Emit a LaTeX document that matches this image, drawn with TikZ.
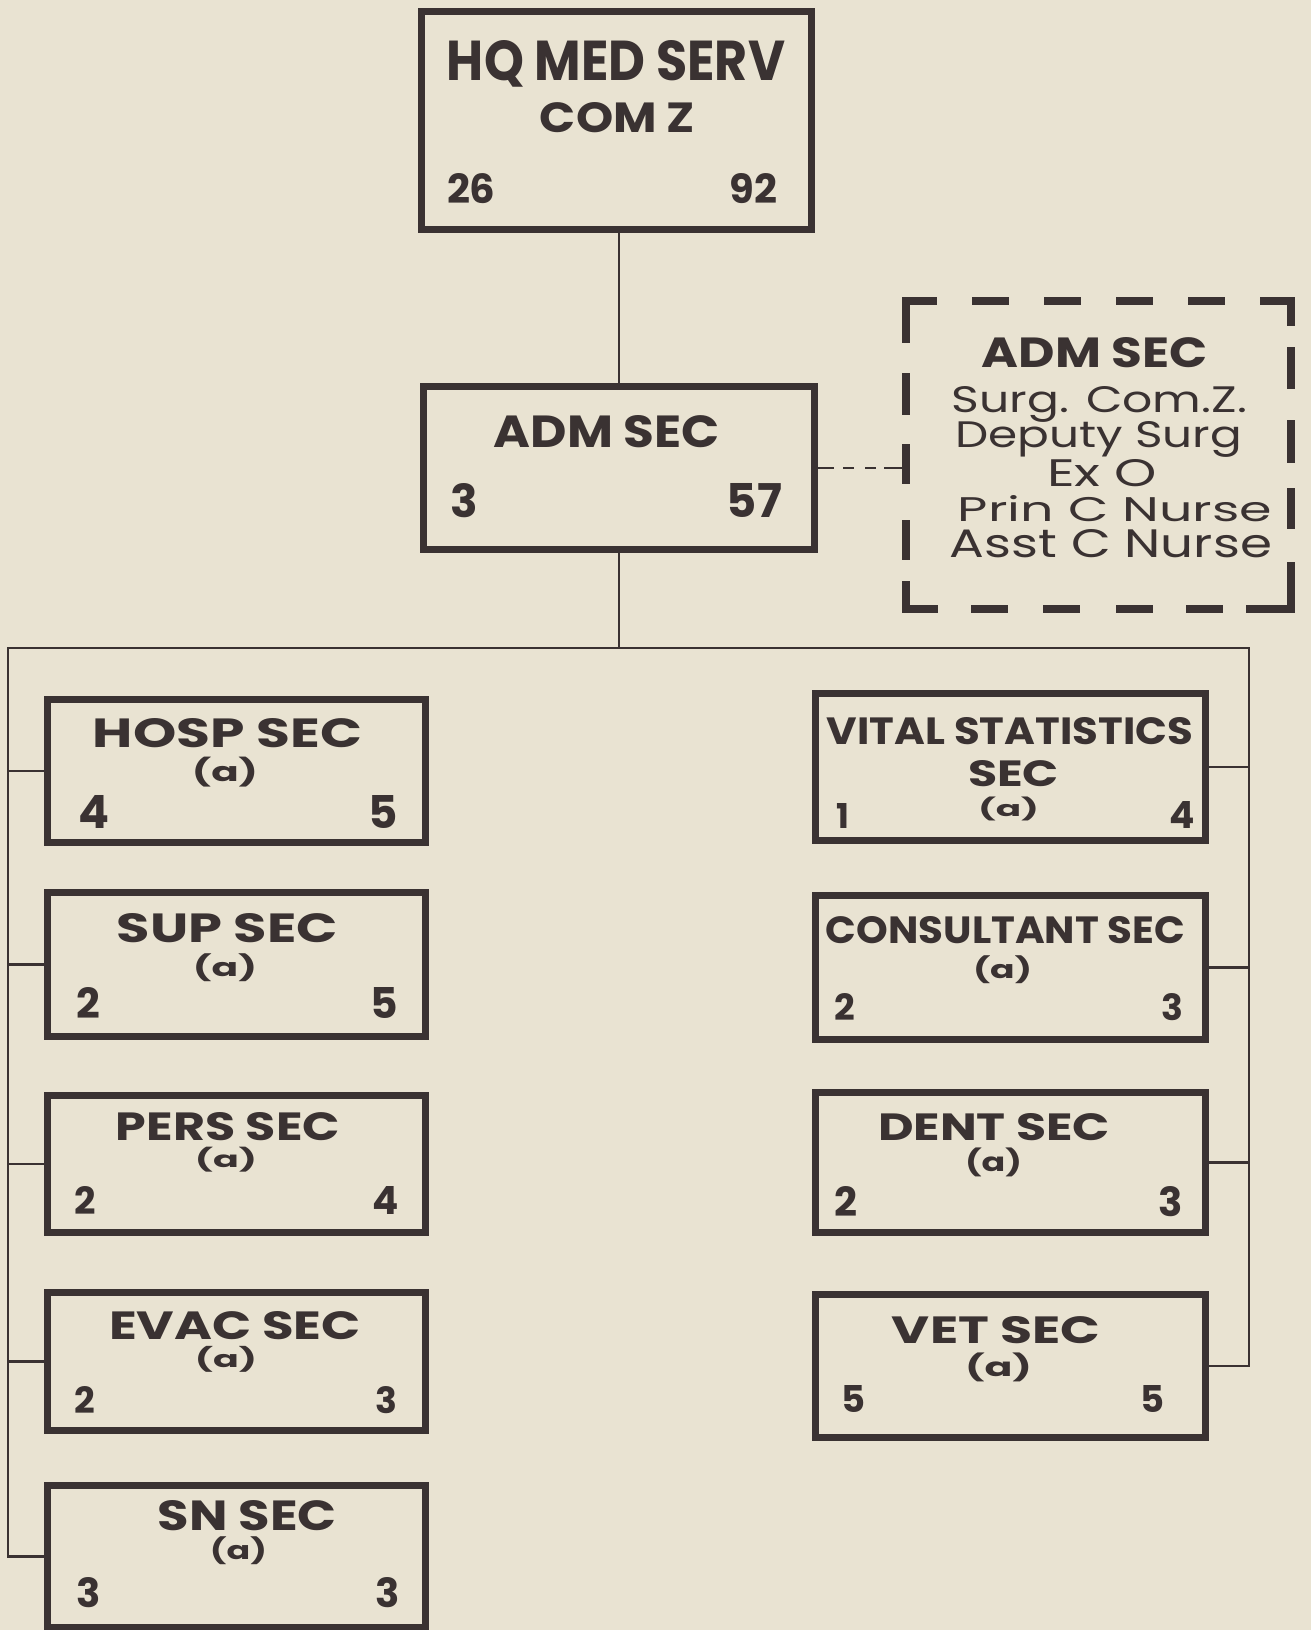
\documentclass[tikz,border=0pt]{standalone}
\usepackage{fontspec}
\setmainfont{Poppins}
\usepackage{graphicx}
\definecolor{paper}{RGB}{233,227,210}
\definecolor{ink}{RGB}{58,50,50}
\newcommand\tfit[3]{\resizebox{#1pt}{#2pt}{#3}}
\newcommand\dfit[2]{\resizebox{!}{#1pt}{#2}}
\newcommand\afit[2]{\resizebox*{#1pt}{#2pt}{(a)}}
\begin{document}
\begin{tikzpicture}[x=1pt,y=-1pt,
 box/.style={draw=ink, line width=7pt, inner sep=0pt, line join=miter},
 wire/.style={draw=ink, line width=2.5pt},
 lbl/.style={inner sep=0pt, outer sep=0pt, text=ink, font=\bfseries},
 lst/.style={inner sep=0pt, outer sep=0pt, text=ink, font=\mdseries},
 dwire/.style={draw=ink, line width=2.5pt, dash pattern=on 16pt off 9pt on 11pt off 11pt on 11pt off 8pt on 40pt off 1pt},
 dside/.style={draw=ink, line width=7.5pt, line cap=rect}
]
\useasboundingbox (0,0) rectangle (1311,1630);
\fill[paper] (0,0) rectangle (1311,1630);

% HQ
\node[box, minimum width=390pt, minimum height=218pt] (hq) at (616.5,120.5) {};
\node[lbl, anchor=base] (hqt) at (616,80) {\tfit{338}{40}{HQ MED SERV}};
\node[lbl, anchor=base] (hqc) at (617.5,132) {\tfit{155}{30}{COM Z}};
\node[lbl, anchor=base west] (hql) at (447,203) {\dfit{30}{26}};
\node[lbl, anchor=base east] (hqr) at (777,203) {\dfit{30}{92}};

% ADM SEC
\node[box, minimum width=391pt, minimum height=163pt] (adm) at (619,468) {};
\node[lbl, anchor=base] (admt) at (607,447) {\tfit{226}{32}{ADM SEC}};
\node[lbl, anchor=base west] (adml) at (450,517) {\dfit{34}{3}};
\node[lbl, anchor=base east] (admr) at (782,517) {\dfit{34}{57}};

% ADM SEC staff (dashed)
\node[inner sep=0pt, minimum width=385pt, minimum height=308pt] (admx) at (1098.5,455) {};
\node[lbl, anchor=base] (x1) at (1095,367) {\tfit{226}{30}{ADM SEC}};
\node[lst, anchor=base] (x2) at (1099.5,412) {\tfit{295}{26}{Surg. Com.Z.}};
\node[lst, anchor=base] (x3) at (1098.5,447) {\tfit{287}{26}{Deputy Surg}};
\node[lst, anchor=base] (x4) at (1102,486) {\tfit{110}{27}{Ex O}};
\node[lst, anchor=base] (x5) at (1115,521) {\tfit{314}{26}{Prin C Nurse}};
\node[lst, anchor=base] (x6) at (1111,557) {\tfit{322}{28}{Asst C Nurse}};
\draw[dside, dash pattern=on 30pt off 42pt, dash phase=2.5pt] (admx.north west) -- (admx.north east);
\draw[dside, dash pattern=on 38pt off 38pt on 34pt off 37pt on 32pt off 44pt on 32pt off 29pt on 40pt off 10pt] (admx.north west) -- (admx.south west);
\draw[dside, dash pattern=on 21pt off 29pt on 34pt off 39pt on 35pt off 33pt on 33pt off 41pt on 60pt off 10pt] (admx.north east) -- (admx.south east);
\draw[dside, dash pattern=on 28.5pt off 40pt on 30pt off 42pt on 30pt off 43pt on 30pt off 40pt on 30pt off 30pt on 60pt off 10pt] (admx.south west) -- (admx.south east);

% Left column
\node[box, minimum width=378pt, minimum height=143pt] (hosp) at (236.5,771) {};
\node[lbl, anchor=base] (hospt) at (227.5,747) {\tfit{269}{29}{HOSP SEC}};
\node[lbl] (hospa) at (225,772) {\afit{66}{30}};
\node[lbl, anchor=base west] (hospl) at (78,828) {\dfit{33}{4}};
\node[lbl, anchor=base east] (hospr) at (398,828) {\dfit{33}{5}};

\node[box, minimum width=378pt, minimum height=144pt] (sup) at (236.5,964.5) {};
\node[lbl, anchor=base] (supt) at (227.5,942) {\tfit{221}{29}{SUP SEC}};
\node[lbl] (supa) at (225,968) {\afit{64}{28}};
\node[lbl, anchor=base west] (supl) at (76,1018) {\dfit{31}{2}};
\node[lbl, anchor=base east] (supr) at (398,1018) {\dfit{31}{5}};

\node[box, minimum width=378pt, minimum height=137pt] (pers) at (236.5,1164) {};
\node[lbl, anchor=base] (perst) at (228,1140) {\tfit{224}{28}{PERS SEC}};
\node[lbl] (persa) at (226,1160) {\afit{62}{25}};
\node[lbl, anchor=base west] (persl) at (74,1214) {\dfit{28}{2}};
\node[lbl, anchor=base east] (persr) at (399,1214) {\dfit{28}{4}};

\node[box, minimum width=378pt, minimum height=138pt] (evac) at (236.5,1361.5) {};
\node[lbl, anchor=base] (evact) at (235,1339) {\tfit{252}{28}{EVAC SEC}};
\node[lbl] (evaca) at (226,1359) {\afit{62}{26}};
\node[lbl, anchor=base west] (evacl) at (74,1413) {\dfit{27}{2}};
\node[lbl, anchor=base east] (evacr) at (397,1413) {\dfit{27}{3}};

\node[box, minimum width=378pt, minimum height=142pt] (sn) at (236.5,1556.5) {};
\node[lbl, anchor=base] (snt) at (247.5,1530) {\tfit{179}{30}{SN SEC}};
\node[lbl] (sna) at (238.5,1551) {\afit{57}{28}};
\node[lbl, anchor=base west] (snl) at (76,1607) {\dfit{30}{3}};
\node[lbl, anchor=base east] (snr) at (400,1607) {\dfit{30}{3}};

% Right column
\node[box, minimum width=390pt, minimum height=147pt] (vital) at (1010.5,767) {};
\node[lbl, anchor=base] (vitalt) at (1010,744) {\tfit{366}{27}{VITAL STATISTICS}};
\node[lbl, anchor=base] (vitals) at (1013.5,786) {\tfit{91}{26}{SEC}};
\node[lbl] (vitala) at (1008.5,809) {\afit{61}{24}};
\node[lbl, anchor=base west] (vitall) at (836,828) {\dfit{25}{1}};
\node[lbl, anchor=base east] (vitalr) at (1195,828) {\dfit{27}{4}};

\node[box, minimum width=390pt, minimum height=144pt] (cons) at (1010.5,967.5) {};
\node[lbl, anchor=base] (const) at (1005.5,943) {\tfit{359}{27}{CONSULTANT SEC}};
\node[lbl] (consa) at (1002.5,970) {\afit{59}{28}};
\node[lbl, anchor=base west] (consl) at (834,1020) {\dfit{27}{2}};
\node[lbl, anchor=base east] (consr) at (1183,1020) {\dfit{27}{3}};

\node[box, minimum width=390pt, minimum height=140pt] (dent) at (1010.5,1162.5) {};
\node[lbl, anchor=base] (dentt) at (994,1140) {\tfit{232}{27}{DENT SEC}};
\node[lbl] (denta) at (993.5,1162) {\afit{57}{29}};
\node[lbl, anchor=base west] (dentl) at (834,1216) {\dfit{30}{2}};
\node[lbl, anchor=base east] (dentr) at (1183,1216) {\dfit{30}{3}};

\node[box, minimum width=390pt, minimum height=143pt] (vet) at (1010.5,1366) {};
\node[lbl, anchor=base] (vett) at (996,1343) {\tfit{208}{27}{VET SEC}};
\node[lbl] (veta) at (998.5,1367) {\afit{67}{29}};
\node[lbl, anchor=base west] (vetl) at (841,1412) {\dfit{27}{5}};
\node[lbl, anchor=base east] (vetr) at (1164,1412) {\dfit{27}{5}};

% Connectors
\coordinate (busL) at (8,648);
\coordinate (busR) at (1249,648);
\draw[wire] (adm.north |- hq.south) -- (adm.north);
\draw[wire] (adm.south) -- (adm.south |- busL);
\draw[wire] (sn.west) -| (busL) -- (busR) |- (vet.east);
\draw[wire] (hosp.west) -- (hosp.west -| busL);
\draw[wire] (sup.west) -- (sup.west -| busL);
\draw[wire] (pers.west) -- (pers.west -| busL);
\draw[wire] (evac.west) -- (evac.west -| busL);
\draw[wire] (vital.east) -- (vital.east -| busR);
\draw[wire] (cons.east) -- (cons.east -| busR);
\draw[wire] (dent.east) -- (dent.east -| busR);
\draw[dwire] (adm.east) -- (adm.east -| admx.west);
\end{tikzpicture}
\end{document}
